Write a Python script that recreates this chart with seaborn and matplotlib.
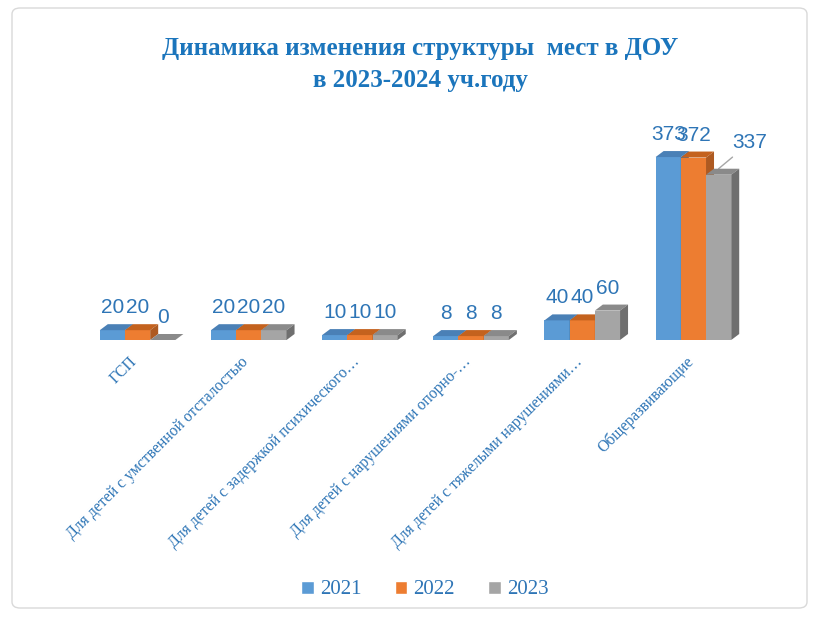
import numpy as np
import pandas as pd
import matplotlib
matplotlib.use("Agg")
import matplotlib.pyplot as plt
import matplotlib.transforms as mtransforms
import seaborn as sns
from matplotlib.patches import Polygon, FancyBboxPatch

# data
categories = [
    "ГСП",
    "Для детей с умственной отсталостью",
    "Для детей с задержкой психического…",
    "Для детей с нарушениями опорно-…",
    "Для детей с тяжелыми нарушениями…",
    "Общеразвивающие",
]
years = ["2021", "2022", "2023"]
v2021 = [20, 20, 10, 8, 40, 373]
v2022 = [20, 20, 10, 8, 40, 372]
v2023 = [0, 20, 10, 8, 60, 337]

df = pd.DataFrame({
    "cat": categories * 3,
    "year": [y for y in years for _ in categories],
    "value": v2021 + v2022 + v2023,
})

front = ["#5B9BD5", "#ED7D31", "#A5A5A5"]
top = ["#4A80B6", "#C4621E", "#8A8A8A"]
side = ["#41719C", "#AE5A21", "#6F6F6F"]
blue_txt = "#2E75B6"

sns.set_theme(style="white")
plt.rcParams["font.family"] = ["Liberation Serif", "DejaVu Serif"]

fig = plt.figure(figsize=(8.17, 6.19), dpi=100)
ax = fig.add_axes([82 / 817, (619 - 340) / 619, 667 / 817, 206 / 619])

sns.barplot(data=df, x="cat", y="value", hue="year", order=categories,
            hue_order=years, palette=front, width=0.68, gap=0,
            saturation=1, ax=ax, legend=True)

ax.set_xlim(-0.5, 5.5)
ax.set_ylim(0, 420)

# depth of the fake 3D faces, in pixels -> data units
fig.canvas.draw()
p0 = ax.transData.inverted().transform((0, 0))
p1 = ax.transData.inverted().transform((8, 6))
dx, dy = p1 - p0

n = len(categories)
bars = ax.patches[:n * 3]
for i, bar in enumerate(bars):
    k = i // n
    bar.set_zorder(3 + k)
    bar.set_edgecolor("none")
    x0 = bar.get_x()
    x1 = x0 + bar.get_width()
    h = bar.get_height()
    ax.add_patch(Polygon([(x0, h), (x1, h), (x1 + dx, h + dy), (x0 + dx, h + dy)],
                         closed=True, facecolor=top[k], edgecolor="none", zorder=3 + k))
    ax.add_patch(Polygon([(x1, 0), (x1 + dx, dy), (x1 + dx, h + dy), (x1, h)],
                         closed=True, facecolor=side[k], edgecolor="none", zorder=3 + k))
    cx = x0 + bar.get_width() / 2
    if k == 2 and i % n == 5:
        # label moved aside with a leader line, like in the original
        ax.annotate(str(int(h)), xy=(cx, h + dy), xytext=(10, 12),
                    textcoords="offset points", ha="left", va="bottom",
                    color=blue_txt, fontsize=15, family="Liberation Sans",
                    arrowprops=dict(arrowstyle="-", color="#A6A6A6", lw=1,
                                    shrinkA=2, shrinkB=0))
    else:
        ax.annotate(str(int(h)), xy=(cx, h + dy), xytext=(0, 5),
                    textcoords="offset points", ha="center", va="bottom",
                    color=blue_txt, fontsize=15, family="Liberation Sans", zorder=10)

ax.set_xlabel("")
ax.set_ylabel("")
ax.set_yticks([])
ax.tick_params(axis="x", length=0, pad=10)
ax.set_xticks(range(n))
ax.set_xticklabels(categories, rotation=45, ha="right", rotation_mode="anchor",
                   color=blue_txt, fontsize=11.3)
shift = mtransforms.ScaledTranslation(-6 / 72, 0, fig.dpi_scale_trans)
for lab in ax.get_xticklabels():
    lab.set_transform(lab.get_transform() + shift)
sns.despine(ax=ax, left=True, bottom=True)

leg = ax.legend(loc="center", ncol=3, frameon=False, fontsize=15,
                handlelength=0.6, handleheight=0.6,
                handletextpad=0.3, columnspacing=1.6)
for t in leg.get_texts():
    t.set_color(blue_txt)
leg.set_bbox_to_anchor((0.52, 1 - 590 / 619), transform=fig.transFigure)

fig.text(0.514, 1 - 49 / 619, "Динамика изменения структуры  мест в ДОУ",
         ha="center", va="center", fontsize=18, fontweight="bold", color="#1B75BC")
fig.text(0.514, 1 - 81 / 619, "в 2023-2024 уч.году",
         ha="center", va="center", fontsize=18, fontweight="bold", color="#1B75BC")

frame = FancyBboxPatch((12 / 817, 11 / 619), 795 / 817, 600 / 619,
                       boxstyle="round,pad=0,rounding_size=0.01",
                       transform=fig.transFigure, facecolor="none",
                       edgecolor="#D9D9D9", lw=1)
fig.patches.append(frame)

fig.savefig("out.png", dpi=100)
